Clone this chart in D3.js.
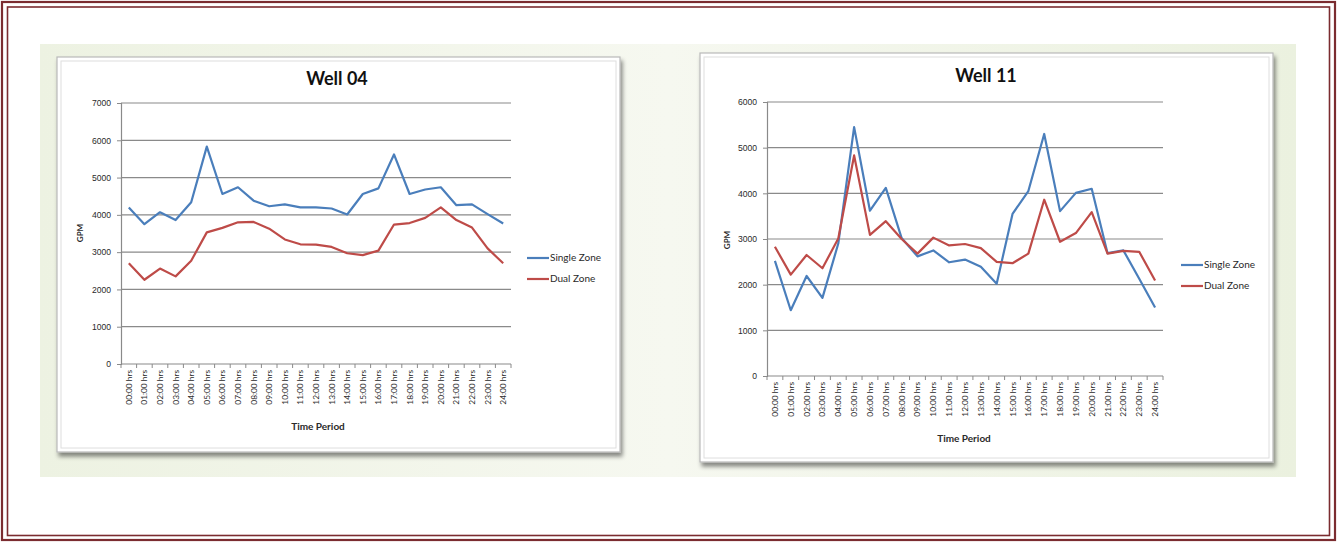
<!DOCTYPE html>
<html>
<head>
<meta charset="utf-8">
<script src="https://cdn.jsdelivr.net/npm/d3@7"></script>
<style>
  html, body { margin: 0; padding: 0; background: #ffffff; }
  svg { display: block; font-family: Lato, "Open Sans", sans-serif; }
</style>
</head>
<body>
<svg id="chart" width="1338" height="542"></svg>
<script>
// Hourly time periods shared by both wells
const timePeriods = [
  "00:00 hrs","01:00 hrs","02:00 hrs","03:00 hrs","04:00 hrs","05:00 hrs","06:00 hrs",
  "07:00 hrs","08:00 hrs","09:00 hrs","10:00 hrs","11:00 hrs","12:00 hrs","13:00 hrs",
  "14:00 hrs","15:00 hrs","16:00 hrs","17:00 hrs","18:00 hrs","19:00 hrs","20:00 hrs",
  "21:00 hrs","22:00 hrs","23:00 hrs","24:00 hrs"
];

// Well 04 flow (GPM)
const well04Single = [4200,3750,4070,3860,4340,5830,4560,4740,4380,4230,4280,4200,4200,4170,4010,4560,4710,5620,4560,4680,4740,4260,4280,4020,3770];
const well04Dual   = [2700,2260,2560,2350,2770,3530,3650,3800,3810,3630,3340,3210,3200,3140,2970,2920,3040,3740,3780,3920,4200,3860,3660,3100,2700];
const well04Ticks  = [0,1000,2000,3000,4000,5000,6000,7000];

// Well 11 flow (GPM)
const well11Single = [2520,1440,2190,1710,2900,5450,3620,4120,3020,2620,2750,2490,2550,2390,2020,3550,4050,5300,3610,4010,4100,2690,2750,2130,1500];
const well11Dual   = [2830,2220,2650,2360,3010,4830,3090,3390,3000,2680,3030,2860,2890,2800,2500,2470,2680,3860,2940,3130,3590,2680,2740,2720,2090];
const well11Ticks  = [0,1000,2000,3000,4000,5000,6000];

const seriesNames  = ["Single Zone", "Dual Zone"];
const seriesColors = ["#4a7ebb", "#be4b48"];

const svg = d3.select("#chart");
const defs = svg.append("defs");

// soft shadow under each chart card
const shadow = defs.append("filter").attr("id", "cardShadow")
  .attr("x", "-5%").attr("y", "-5%").attr("width", "112%").attr("height", "115%");
shadow.append("feDropShadow").attr("dx", 2).attr("dy", 4).attr("stdDeviation", 2.2)
  .attr("flood-color", "#000").attr("flood-opacity", 0.45);

// pale green panel gradient
const grad = defs.append("linearGradient").attr("id", "panelGrad")
  .attr("x1", 0).attr("x2", 1).attr("y1", 0).attr("y2", 0);
grad.append("stop").attr("offset", "0%").attr("stop-color", "#edf2e2");
grad.append("stop").attr("offset", "50%").attr("stop-color", "#f6f8f0");
grad.append("stop").attr("offset", "100%").attr("stop-color", "#ebf1df");

// page frame: double maroon rule
svg.append("rect").attr("x", 2).attr("y", 2).attr("width", 1333).attr("height", 538)
  .attr("fill", "none").attr("stroke", "#7b2c30").attr("stroke-width", 2.2);
svg.append("rect").attr("x", 7.5).attr("y", 7).attr("width", 1322).attr("height", 528.5)
  .attr("fill", "none").attr("stroke", "#7b2c30").attr("stroke-width", 1.6);

// backdrop panel
svg.append("rect").attr("x", 40).attr("y", 44).attr("width", 1256).attr("height", 433)
  .attr("fill", "url(#panelGrad)");

function drawChart(cfg) {
  const g = svg.append("g");

  // card
  g.append("rect").attr("x", cfg.card[0]).attr("y", cfg.card[1])
    .attr("width", cfg.card[2]).attr("height", cfg.card[3])
    .attr("fill", "#ffffff").attr("stroke", "#b9b9b9").attr("stroke-width", 1.2)
    .attr("filter", "url(#cardShadow)");
  g.append("rect").attr("x", cfg.card[0] + 4).attr("y", cfg.card[1] + 4)
    .attr("width", cfg.card[2] - 8).attr("height", cfg.card[3] - 8)
    .attr("fill", "none").attr("stroke", "#dedede").attr("stroke-width", 1);

  const x = d3.scaleBand().domain(timePeriods).range([cfg.plot.left, cfg.plot.right]);
  const y = d3.scaleLinear().domain([0, d3.max(cfg.ticks)]).range([cfg.plot.bottom, cfg.plot.top]);

  // horizontal gridlines
  g.append("g").selectAll("line").data(cfg.ticks.filter(t => t > 0)).join("line")
    .attr("x1", cfg.plot.left).attr("x2", cfg.plot.right)
    .attr("y1", d => y(d)).attr("y2", d => y(d))
    .attr("stroke", "#8a8a8a").attr("stroke-width", 1.2);

  // value axis
  const yAxis = g.append("g").attr("transform", `translate(${cfg.plot.left},0)`)
    .call(d3.axisLeft(y).tickValues(cfg.ticks).tickSize(4).tickPadding(6).tickFormat(d3.format("d")));
  yAxis.select(".domain").attr("stroke", "#8a8a8a").attr("stroke-width", 1.2);
  yAxis.selectAll(".tick line").attr("stroke", "#8a8a8a");
  yAxis.selectAll(".tick text").attr("fill", "#2a2a2a").style("font-size", "8.6px");

  // category axis with ticks between categories
  const xAxis = g.append("g").attr("transform", `translate(0,${cfg.plot.bottom})`);
  xAxis.append("line").attr("x1", cfg.plot.left).attr("x2", cfg.plot.right)
    .attr("stroke", "#8a8a8a").attr("stroke-width", 1.2);
  const bounds = timePeriods.map(d => x(d)).concat([cfg.plot.right]);
  xAxis.selectAll(".sep").data(bounds).join("line").attr("class", "sep")
    .attr("x1", d => d).attr("x2", d => d).attr("y1", 0).attr("y2", 4)
    .attr("stroke", "#8a8a8a");
  xAxis.selectAll("text").data(timePeriods).join("text")
    .attr("transform", d => `translate(${x(d) + x.bandwidth() / 2 + 3},6) rotate(-90)`)
    .attr("text-anchor", "end").attr("fill", "#2a2a2a").style("font-size", "8.3px")
    .text(d => d);

  // axis titles
  g.append("text").attr("transform", `translate(${cfg.yTitle[0]},${cfg.yTitle[1]}) rotate(-90)`)
    .attr("text-anchor", "middle").style("font-size", "8px").style("font-weight", "bold")
    .attr("fill", "#2a2a2a").text("GPM");
  g.append("text").attr("x", cfg.xTitle[0]).attr("y", cfg.xTitle[1])
    .attr("text-anchor", "middle").style("font-size", "10px").style("font-weight", "bold")
    .attr("fill", "#2a2a2a").text("Time Period");

  // chart title
  g.append("text").attr("x", cfg.title[0]).attr("y", cfg.title[1])
    .attr("text-anchor", "middle").style("font-size", "18px").style("font-weight", "bold")
    .attr("fill", "#111").text(cfg.name);

  // series lines
  const line = d3.line()
    .x((d, i) => x(timePeriods[i]) + x.bandwidth() / 2)
    .y(d => y(d));
  cfg.series.forEach((vals, k) => {
    g.append("path").datum(vals).attr("d", line)
      .attr("fill", "none").attr("stroke", seriesColors[k])
      .attr("stroke-width", 2.2).attr("stroke-linejoin", "round");
  });

  // legend
  seriesNames.forEach((name, k) => {
    const ly = cfg.legend[1] + k * 21;
    g.append("line").attr("x1", cfg.legend[0]).attr("x2", cfg.legend[0] + 22)
      .attr("y1", ly).attr("y2", ly).attr("stroke", seriesColors[k]).attr("stroke-width", 2.2);
    g.append("text").attr("x", cfg.legend[0] + 23).attr("y", ly + 3.2)
      .style("font-size", "10px").attr("fill", "#2a2a2a").text(name);
  });
}

drawChart({
  name: "Well 04",
  series: [well04Single, well04Dual],
  ticks: well04Ticks,
  card: [57, 57, 563, 395],
  plot: { left: 121, right: 511, top: 103, bottom: 364 },
  title: [337, 85],
  yTitle: [83, 233],
  xTitle: [318, 430],
  legend: [527, 258]
});

drawChart({
  name: "Well 11",
  series: [well11Single, well11Dual],
  ticks: well11Ticks,
  card: [700, 53, 573, 409],
  plot: { left: 767, right: 1163, top: 102, bottom: 376 },
  title: [986, 82],
  yTitle: [730, 240],
  xTitle: [964, 442],
  legend: [1181, 265]
});
</script>
</body>
</html>
